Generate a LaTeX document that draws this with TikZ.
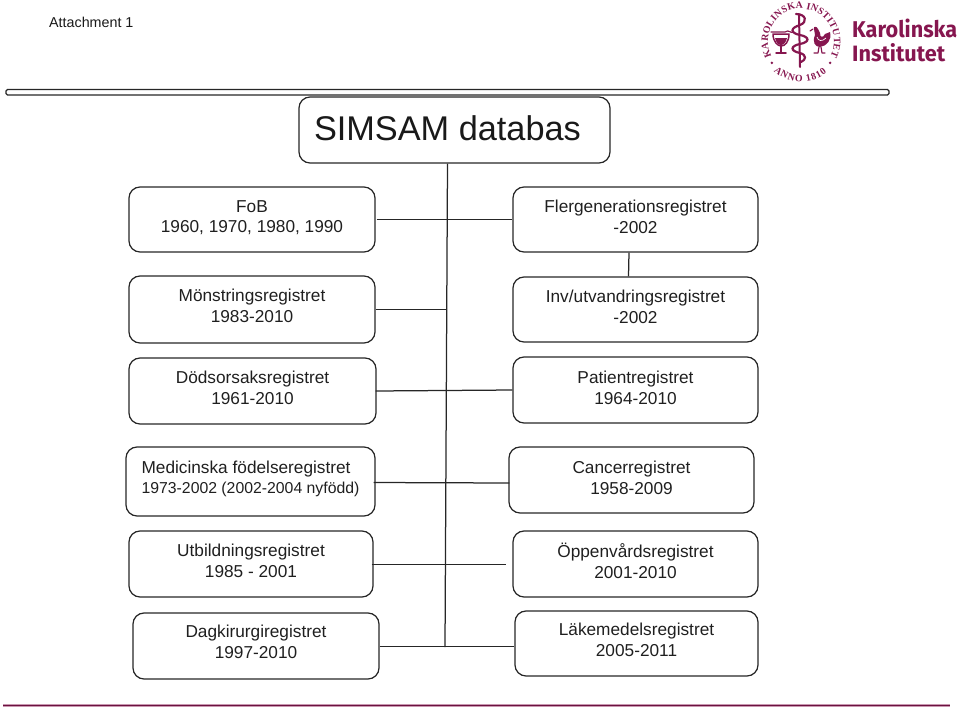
\documentclass[tikz,border=0pt]{standalone}
\usepackage{fontspec}
\usepackage{graphicx}
\setmainfont{Liberation Sans}
\newfontfamily\logofont{Fira Sans}
\newfontfamily\sealfont{Liberation Serif}
\usetikzlibrary{decorations.text}
\definecolor{kimaroon}{HTML}{86164F}
\definecolor{inkline}{HTML}{262626}
% extra depth below the last line: lifts the text inside its box by half of it
\newcommand{\liftby}[1]{\rule[-#1]{0pt}{#1}}
\tikzset{
  regbox/.style={draw=inkline,line width=1.25pt,rounded corners=11pt,align=center,font=\fontsize{17.25}{20.6}\selectfont,text=black!88,inner sep=0pt},
  link/.style={draw=inkline,line width=1.25pt},
  sealtext/.style={decorate,decoration={text along path,text align={fit to path},text={|\sealfont\bfseries\fontsize{9.8}{9.8}\selectfont\color{kimaroon}|#1}}},
  sealink/.style={draw=kimaroon,line width=1.2pt,line cap=round,line join=round},
  sealfill/.style={fill=kimaroon,draw=none},
  logoword/.style={anchor=south west,inner sep=0pt,text=kimaroon,font=\logofont\bfseries\fontsize{24}{24}\selectfont}
}
\begin{document}
\begin{tikzpicture}[x=1pt,y=-1pt]
\useasboundingbox (0,0) rectangle (959,710);
% header
\node[anchor=west,inner sep=0pt,font=\fontsize{14.3}{16}\selectfont,text=black!90] (att) at (49,22) {Attachment 1};
\draw[draw=inkline,line width=1.3pt,rounded corners=1.5pt] (6,89.5) rectangle (889,95);
% seal lettering
\coordinate (sealc) at (801,41.7);
\path[sealtext={KAROLINSKA INSTITUTET}] ([shift={(sealc)}]153:33) arc[start angle=153,end angle=387,radius=33];
\path[sealtext={ANNO 1810}] ([shift={(sealc)}]133:40) arc[start angle=133,end angle=50,radius=40];
\fill[kimaroon] ([shift={(sealc)}]144:36) circle[radius=1.4];
\fill[kimaroon] ([shift={(sealc)}]36:36) circle[radius=1.4];
% seal: staff and serpent
\draw[sealink,line width=2pt] (799,15) -- (800,67);
\draw[sealink,line width=2.2pt] (796,14) .. controls (806,14) and (808,22) .. (800,25)
  .. controls (790,28) and (790,33) .. (800,35)
  .. controls (810,37) and (810,42) .. (800,44)
  .. controls (790,46) and (790,51) .. (800,53)
  .. controls (807,55) and (806,60) .. (801,62);
% seal: cup
\draw[sealink,line width=1.5pt] (773,34) .. controls (773,42) and (778,46) .. (781,46) .. controls (785,46) and (789,42) .. (789,34) -- cycle;
\fill[kimaroon] (775,38) -- (787,38) .. controls (786,43) and (783,45) .. (781,45) .. controls (779,45) and (776,43) .. (775,38) -- cycle;
\draw[sealink] (771,32) -- (785,32) .. controls (789,29) and (791,34) .. (793,32);
\draw[sealink,line width=1.5pt] (781,46) -- (781,52);
\draw[sealink,line width=1.5pt] (776,53) -- (786,53);
% seal: rooster
\draw[sealfill] (814,29) .. controls (813,26) and (817,26) .. (818,29) -- (820,33) .. controls (820,38) and (823,38) .. (825,34) -- (830,32) .. controls (832,40) and (827,46) .. (820,47) .. controls (815,47) and (812,42) .. (815,35) -- cycle;
\draw[draw=white,line width=.7pt] (817,37) .. controls (818,41) and (822,42) .. (826,38);
\draw[sealink] (819,47) -- (818,53) -- (814,53);
\draw[sealink] (821,47) -- (822,53) -- (825,53);
\draw[sealink] (813,29) -- (810,31);
% seal: word mark
\node[logoword] (kiA) at (852,38) {\resizebox{105pt}{18.5pt}{Karolinska}};
\node[logoword] (kiB) at (852,62.5) {\resizebox{93pt}{18pt}{Institutet}};
% title and boxes
\node[regbox,minimum width=311pt,minimum height=66pt,font=\fontsize{34.3}{40}\selectfont,text=black!90,align=left] (title) at (454.5,130) {\makebox[281pt][l]{SIMSAM databas}\liftby{3pt}};
\node[regbox,minimum width=246pt,minimum height=65pt] (fob) at (252,219.5) {FoB\\1960, 1970, 1980, 1990\liftby{6pt}};
\node[regbox,minimum width=245pt,minimum height=65pt] (fler) at (635.5,219.5) {Flergenerationsregistret\\-2002\liftby{5pt}};
\node[regbox,minimum width=246pt,minimum height=67pt] (mon) at (252,309.5) {Mönstringsregistret\\1983-2010\liftby{7pt}};
\node[regbox,minimum width=245pt,minimum height=65pt] (inv) at (635.5,309.5) {Inv/utvandringsregistret\\-2002\liftby{5pt}};
\node[regbox,minimum width=247pt,minimum height=66pt] (dod) at (252.5,391) {Dödsorsaksregistret\\1961-2010\liftby{6pt}};
\node[regbox,minimum width=245pt,minimum height=66pt] (pat) at (635.5,390) {Patientregistret\\1964-2010\liftby{5pt}};
\node[regbox,minimum width=249pt,minimum height=69pt,align=left] (med) at (250.5,481.5) {Medicinska födelseregistret\\[-1pt]{\fontsize{15.8}{19}\selectfont 1973-2002 (2002-2004 nyfödd)}\liftby{9pt}};
\node[regbox,minimum width=245pt,minimum height=66pt] (can) at (631.5,480) {Cancerregistret\\1958-2009\liftby{5pt}};
\node[regbox,minimum width=244pt,minimum height=66pt] (utb) at (251,564) {Utbildningsregistret\\1985 - 2001\liftby{6pt}};
\node[regbox,minimum width=245pt,minimum height=66pt] (opp) at (635.5,564) {Öppenvårdsregistret\\2001-2010\liftby{6pt}};
\node[regbox,minimum width=246pt,minimum height=66pt] (dag) at (256,646) {Dagkirurgiregistret\\1997-2010\liftby{8pt}};
\node[regbox,minimum width=243pt,minimum height=65pt] (lak) at (636.5,643.5) {Läkemedelsregistret\\2005-2011\liftby{7pt}};
% connectors
\coordinate (trunkend) at (445,647);
\coordinate (monjoin) at (447,309.5);
\draw[link] (title.south -| 447.5,0) -- (trunkend);
\draw[link] ([xshift=1pt]fob.east) -- (fler.west);
\draw[link] (mon.east) -- (monjoin);
\draw[link] ([xshift=-1pt]dod.east) -- (pat.west);
\draw[link] ([shift={(-2,1)}]med.east) -- ([shift={(1,3)}]can.west);
\draw[link] ([shift={(-2,.5)}]utb.east) -- ([shift={(-6,.5)}]opp.west);
\draw[link] ([yshift=-.5pt]dag.east) -- ([yshift=-.5pt]lak.west |- dag.east);
\draw[link] (fler.south -| 629,0) -- (inv.north -| 628.5,0);
% footer
\coordinate (footL) at (3,705.5);
\coordinate (footR) at (950,705.5);
\draw[draw=kimaroon!45,line width=2.4pt] (footL) -- (footR);
\draw[draw=kimaroon!80!black,line width=1pt] (footL) -- (footR);
\end{tikzpicture}
\end{document}
